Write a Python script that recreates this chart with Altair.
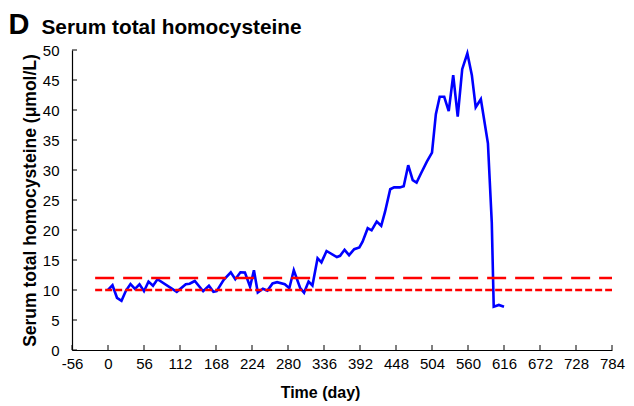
import altair as alt
import pandas as pd

# ---- data ----
days = [0, 7, 14, 21, 28, 35, 42, 49, 56, 63, 70, 77,
        107, 121, 127, 135, 148, 157, 164, 169,
        180, 191, 198, 206, 213, 221, 227, 233,
        241, 248, 256, 263, 275, 282, 289, 299,
        305, 312, 318, 326, 332, 340, 356, 361,
        368, 375, 383, 391, 396, 404, 410, 418,
        425, 431, 439, 445, 454, 460, 467, 474,
        480, 487, 496, 504, 510, 516, 523, 530,
        537, 544, 551, 559, 566, 572, 580, 591,
        597, 600, 608, 616]
hcy = [10.0, 10.8, 8.7, 8.2, 9.9, 11.0, 10.2, 10.95, 9.8, 11.4, 10.7, 11.8,
       9.7, 10.95, 11.05, 11.5, 9.8, 10.7, 9.7, 9.8,
       11.7, 12.95, 11.8, 12.95, 12.9, 10.55, 13.3, 9.6,
       10.2, 9.9, 11.1, 11.3, 10.95, 10.3, 13.3, 10.3,
       9.55, 11.4, 10.75, 15.3, 14.6, 16.5, 15.5, 15.7,
       16.7, 15.8, 16.8, 17.1, 18.05, 20.3, 19.95, 21.4,
       20.7, 23.05, 26.8, 27.1, 27.1, 27.3, 30.8, 28.3,
       27.9, 29.45, 31.4, 32.9, 39.3, 42.2, 42.2, 39.8,
       45.8, 38.9, 46.8, 49.45, 45.8, 40.45, 41.8, 34.45,
       21.2, 7.2, 7.5, 7.2]

upper_ref = 12
lower_ref = 10
ref_start = -20
ref_end = 784

x_ticks = [-56, 0, 56, 112, 168, 224, 280, 336, 392, 448, 504, 560, 616, 672, 728, 784]
y_ticks = [0, 5, 10, 15, 20, 25, 30, 35, 40, 45, 50]

panel_letter = "D"
panel_title = "Serum total homocysteine"
x_title = "Time (day)"
y_title = "Serum total homocysteine (μmol/L)"

W, H = 540, 300
FONT = "Liberation Sans"

df = pd.DataFrame({"day": days, "hcy": hcy})
ref_df = pd.DataFrame({"x0": [ref_start], "x1": [ref_end], "hi": [upper_ref], "lo": [lower_ref]})
xt_df = pd.DataFrame({"t": x_ticks})
yt_df = pd.DataFrame({"t": y_ticks})
title_df = pd.DataFrame({"letter": [panel_letter], "title": [panel_title]})

xscale = alt.Scale(domain=[-56, 784], nice=False, zero=False)
yscale = alt.Scale(domain=[0, 50], nice=False)

xaxis = alt.Axis(values=x_ticks, ticks=False, labelPadding=6, labelOverlap=False,
                 labelFlush=False, labelBound=False,
                 labelExpr="'' + datum.value",
                 titleX=248, titleAlign="center", titlePadding=13)
yaxis = alt.Axis(values=y_ticks, ticks=False, labelPadding=13, labelOverlap=False,
                 labelFlush=False, labelBound=False,
                 labelExpr="'' + datum.value", titlePadding=3, titleFontSize=17.5)


def X(field):
    return alt.X(field, scale=xscale, title=x_title, axis=xaxis)


def Y(field):
    return alt.Y(field, scale=yscale, title=y_title, axis=yaxis)


line = alt.Chart(df).mark_line(color="#0000FF", strokeWidth=2.6, clip=False).encode(
    x=X("day:Q"), y=Y("hcy:Q"),
)

hi_line = alt.Chart(ref_df).mark_rule(color="#FF0000", strokeWidth=2.5, strokeDash=[19, 9]).encode(
    x=X("x0:Q"), x2="x1:Q", y=Y("hi:Q"),
)
lo_line = alt.Chart(ref_df).mark_rule(color="#FF0000", strokeWidth=2.5, strokeDash=[7, 3]).encode(
    x=X("x0:Q"), x2="x1:Q", y=Y("lo:Q"),
)

xt = alt.Chart(xt_df).mark_rule(color="black", strokeWidth=1).encode(
    x=X("t:Q"), y=alt.value(H), y2=alt.value(H - 5),
)
yt = alt.Chart(yt_df).mark_rule(color="black", strokeWidth=1).encode(
    y=Y("t:Q"), x=alt.value(0), x2=alt.value(5),
)

letter = alt.Chart(title_df).mark_text(
    font=FONT, fontSize=29, fontWeight="bold", align="left", baseline="alphabetic", color="black"
).encode(text="letter:N", x=alt.value(-63.5), y=alt.value(-16.5))

ttl = alt.Chart(title_df).mark_text(
    font=FONT, fontSize=20.8, fontWeight="bold", align="left", baseline="alphabetic", color="black"
).encode(text="title:N", x=alt.value(-30.5), y=alt.value(-16))

chart = alt.layer(line, lo_line, hi_line, xt, yt, letter, ttl).properties(
    width=W, height=H,
    autosize="none",
    padding={"left": 64, "top": 42, "right": 14, "bottom": 52},
).configure_view(stroke=None).configure_axis(
    grid=False,
    domainColor="black",
    domainWidth=1.2,
    labelFont=FONT,
    labelFontSize=15,
    labelColor="black",
    titleFont=FONT,
    titleFontSize=16,
    titleFontWeight="bold",
    titleColor="black",
)

chart.save("out.html", embed_options={"renderer": "svg", "actions": False})
